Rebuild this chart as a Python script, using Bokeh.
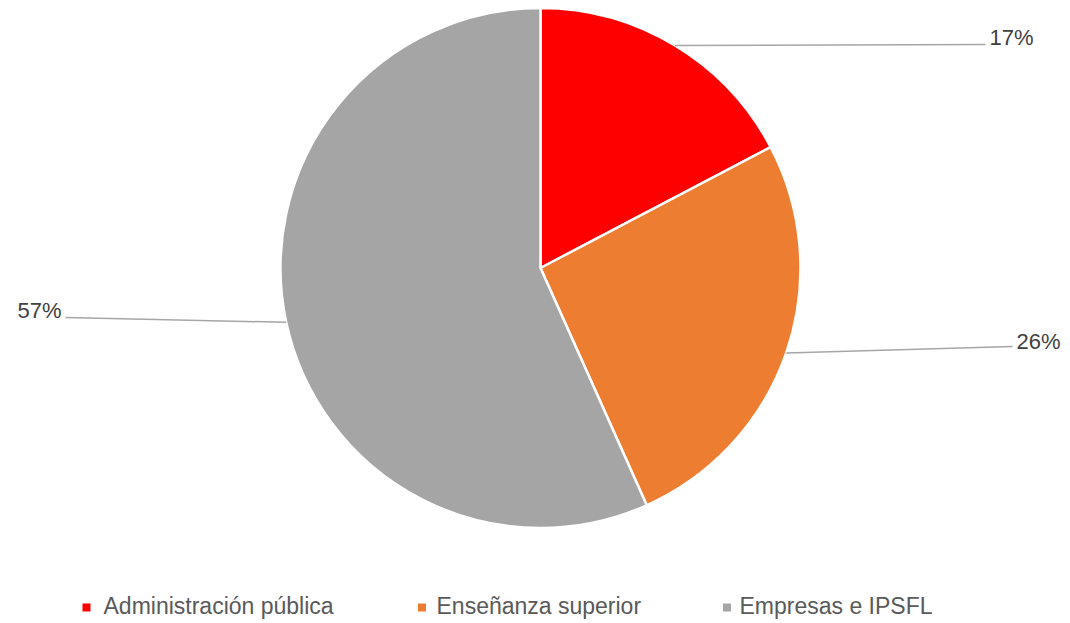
import numpy as np
from bokeh.plotting import figure
from bokeh.models import Range1d, ColumnDataSource
from bokeh.core.properties import value
from bokeh.embed import file_html
from bokeh.resources import INLINE

# ---------------- data ----------------
categories = ["Administración pública", "Enseñanza superior", "Empresas e IPSFL"]
shares = [17.3, 26.0, 56.7]
labels = ["17%", "26%", "57%"]
colors = ["#FF0000", "#ED7D31", "#A5A5A5"]

# ---------------- layout (picture pixel coords) ----------------
W, H = 1070, 623
CX, CY, R = 540.0, 267.5, 260.0
label_anchor = [(985, 44), (1012, 346), (65, 317)]   # end of leader lines
label_mid_dy = [-7, -5, -7]                           # text middle relative to line end
legend_marker_x = [86, 421.5, 726.5]
legend_text_x = [103, 436, 739]
legend_marker_y = 607
legend_mid_y = 605
FONT = "Liberation Sans"

p = figure(width=W, height=H, output_backend="svg", toolbar_location=None,
           x_range=Range1d(0, W), y_range=Range1d(-H, 0),
           min_border=0, outline_line_color=None, background_fill_color="white",
           border_fill_color="white")
p.axis.visible = False
p.grid.visible = False

frac = np.array(shares, dtype=float) / np.sum(shares)
cum = np.cumsum(frac)
prev = cum - frac
start = np.pi / 2 - 2 * np.pi * cum
end = np.pi / 2 - 2 * np.pi * prev
mid = np.pi / 2 - 2 * np.pi * (prev + frac / 2)

src = ColumnDataSource(dict(start=start, end=end, color=colors))
p.wedge(x=CX, y=-CY, radius=R, start_angle="start", end_angle="end",
        fill_color="color", line_color="white", line_width=2.5, source=src)

# leader lines and labels
for i in range(len(shares)):
    sx = CX + R * np.cos(mid[i])
    sy = -CY + R * np.sin(mid[i])
    ex, ey = label_anchor[i]
    p.line([sx, ex], [sy, -ey], line_color="#A6A6A6", line_width=1.5)
    right = np.cos(mid[i]) > 0
    p.text([ex + 4 if right else ex - 4], [-(ey + label_mid_dy[i])], text=[labels[i]],
           text_align="left" if right else "right", text_baseline="middle",
           text_font=value(FONT), text_font_size="22px", text_color="#404040")

# legend
for i in range(len(categories)):
    p.scatter([legend_marker_x[i]], [-legend_marker_y], marker="square", size=8,
              fill_color=colors[i], line_color=None)
    p.text([legend_text_x[i]], [-legend_mid_y], text=[categories[i]],
           text_align="left", text_baseline="middle",
           text_font=value(FONT), text_font_size="23px", text_color="#595959")

open("out.html", "w").write(file_html(p, INLINE))
